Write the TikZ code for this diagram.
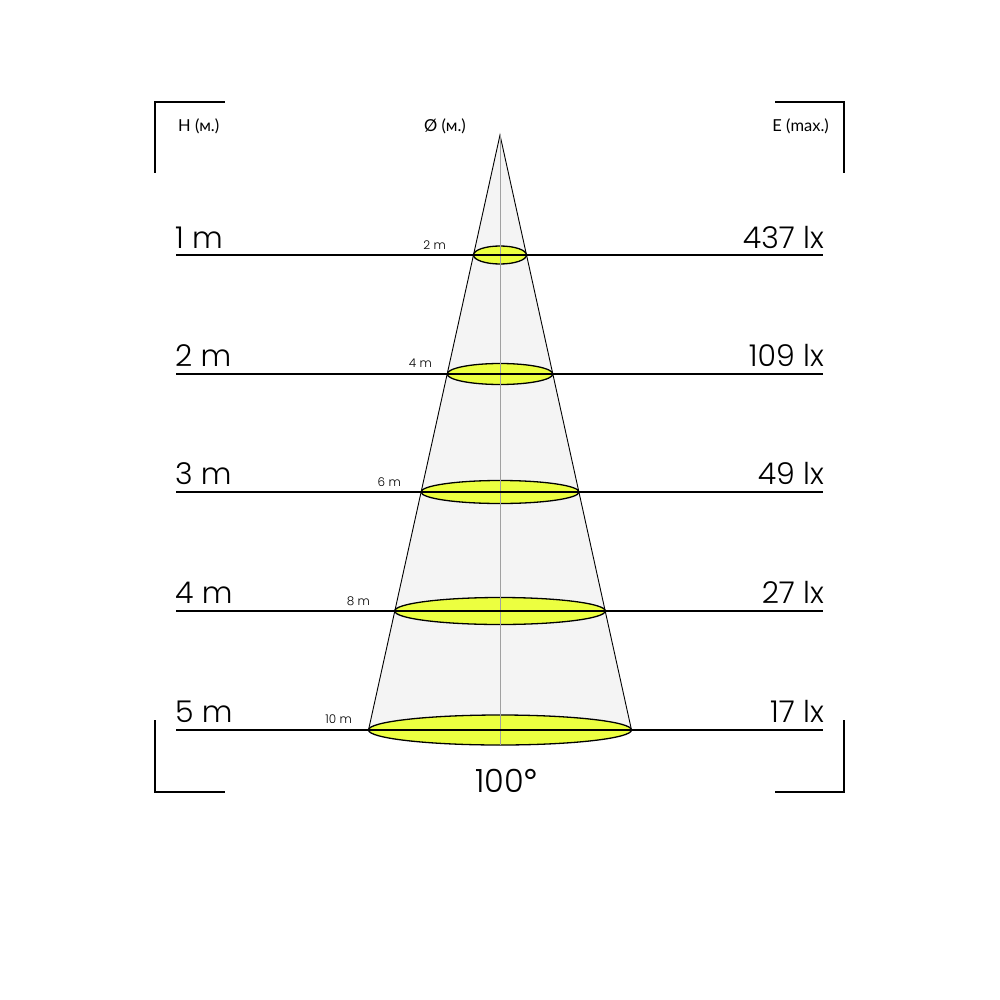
\documentclass[tikz,border=0pt]{standalone}
\usepackage{fontspec}
\setmainfont{Poppins Light}
\newfontfamily\hdrfont{Lato}
\definecolor{beam}{RGB}{244,244,244}
\definecolor{spot}{RGB}{236,255,64}
\definecolor{axisgray}{RGB}{160,160,160}
\tikzset{
  bigtxt/.style={inner sep=0pt,font=\fontsize{30}{30}\selectfont},
  smalltxt/.style={inner sep=0pt,font=\fontsize{12}{12}\selectfont},
  hdrtxt/.style={inner sep=0pt,font=\hdrfont\fontsize{16.5}{16.5}\selectfont},
  level/.style={line width=2pt,black},
  bracket/.style={line width=2pt,black},
  spotell/.style={fill=spot,draw=black,line width=1.3pt},
  coneedge/.style={line width=0.9pt,black}
}
\begin{document}
\begin{tikzpicture}[x=1pt,y=-1pt]
\useasboundingbox (0,0) rectangle (1000,1000);
% coordinates
\coordinate (apex) at (500,135);
\coordinate (bl) at (368.5,730);
\coordinate (br) at (631.5,730);
\coordinate (axend) at (500,745);
% cone
\fill[beam] (apex) -- (bl) -- (br) -- cycle;
\fill[beam] (500,730) ellipse [x radius=131.5pt, y radius=15pt];
\draw[coneedge] (bl) -- (apex) -- (br);
% spots
\draw[spotell] (500,255) ellipse [x radius=26.5pt, y radius=9pt];
\draw[spotell] (500,374) ellipse [x radius=52.8pt, y radius=10.5pt];
\draw[spotell] (500,492) ellipse [x radius=79pt, y radius=11.5pt];
\draw[spotell] (500,611) ellipse [x radius=105.3pt, y radius=13.5pt];
\draw[spotell] (500,730) ellipse [x radius=131.5pt, y radius=15pt];
% axis
\draw[axisgray,line width=0.7pt] (apex) -- (axend);
% level lines
\foreach \yy/\nm in {255/l1,374/l2,492/l3,611/l4,730/l5}{
  \coordinate (\nm a) at (176,\yy);
  \coordinate (\nm b) at (823,\yy);
  \draw[level] (\nm a) -- (\nm b);
}
% brackets
\coordinate (tl1) at (155,173); \coordinate (tl2) at (155,102); \coordinate (tl3) at (225,102);
\coordinate (tr1) at (775,102); \coordinate (tr2) at (844,102); \coordinate (tr3) at (844,173);
\coordinate (bl1) at (155,720); \coordinate (bl2) at (155,792); \coordinate (bl3) at (225,792);
\coordinate (br1) at (775,792); \coordinate (br2) at (844,792); \coordinate (br3) at (844,720);
\draw[bracket] (tl1) -- (tl2) -- (tl3);
\draw[bracket] (tr1) -- (tr2) -- (tr3);
\draw[bracket] (bl1) -- (bl2) -- (bl3);
\draw[bracket] (br1) -- (br2) -- (br3);
% headers
\node[hdrtxt,anchor=base west] (hH) at (178,132) {H (м.)};
\node[hdrtxt,anchor=base west] (hD) at (424,132) {Ø (м.)};
\node[hdrtxt,anchor=base east] (hE) at (829,132) {E (max.)};
% left labels
\node[bigtxt,anchor=base west] (h1) at (175,248) {1 m};
\node[bigtxt,anchor=base west] (h2) at (175,366) {2 m};
\node[bigtxt,anchor=base west] (h3) at (175,484) {3 m};
\node[bigtxt,anchor=base west] (h4) at (175,603) {4 m};
\node[bigtxt,anchor=base west] (h5) at (175,722) {5 m};
% right labels
\node[bigtxt,anchor=base east] (e1) at (824,248) {437 lx};
\node[bigtxt,anchor=base east] (e2) at (824,366) {109 lx};
\node[bigtxt,anchor=base east] (e3) at (824,484) {49 lx};
\node[bigtxt,anchor=base east] (e4) at (824,603) {27 lx};
\node[bigtxt,anchor=base east] (e5) at (824,722) {17 lx};
% diameter labels
\node[smalltxt,anchor=base east] (d1) at (446,249) {2 m};
\node[smalltxt,anchor=base east] (d2) at (432,367) {4 m};
\node[smalltxt,anchor=base east] (d3) at (401,486) {6 m};
\node[smalltxt,anchor=base east] (d4) at (370,605) {8 m};
\node[smalltxt,anchor=base east] (d5) at (352,723) {10 m};
% angle
\node[inner sep=0pt,font=\fontsize{32}{32}\selectfont,anchor=base west] (ang) at (475,792) {100{\hdrfont°}};
\end{tikzpicture}
\end{document}
